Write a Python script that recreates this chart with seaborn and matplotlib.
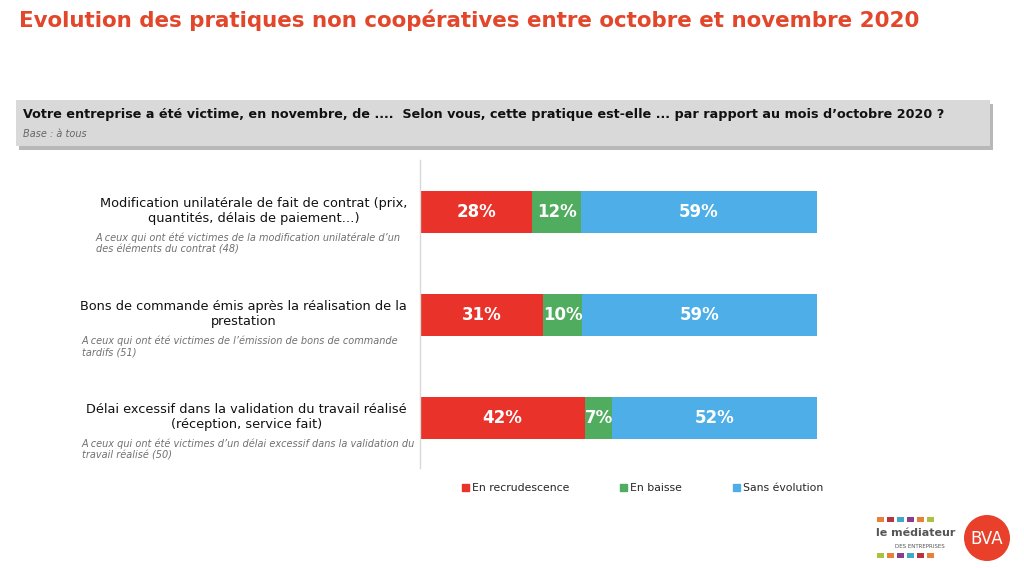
import matplotlib.pyplot as plt
import matplotlib.transforms as mtransforms
from matplotlib.patches import Rectangle, Ellipse, Patch
import pandas as pd
import seaborn as sns

# ---------------------------------------------------------------
# données
# ---------------------------------------------------------------
categories = [
    "Modification unilatérale de fait de contrat (prix,\nquantités, délais de paiement…)",
    "Bons de commande émis après la réalisation de la\nprestation",
    "Délai excessif dans la validation du travail réalisé\n(réception, service fait)",
]
bases = [
    "A ceux qui ont été victimes de la modification unilatérale d’un\ndes éléments du contrat (48)",
    "A ceux qui ont été victimes de l’émission de bons de commande\ntardifs (51)",
    "A ceux qui ont été victimes d’un délai excessif dans la validation du\ntravail réalisé (50)",
]
recrudescence = [28.3, 31.1, 41.6]
baisse = [12.3, 9.6, 6.8]
sans_evolution = [59.4, 59.3, 51.6]

series_names = ["En recrudescence", "En baisse", "Sans évolution"]
colors = ["#E9322A", "#50AC5E", "#4DAEE8"]

title = "Evolution des pratiques non coopératives entre octobre et novembre 2020"
question = ("Votre entreprise a été victime, en novembre, de ....  Selon vous, cette pratique "
            "est-elle ... par rapport au mois d’octobre 2020 ?")
base_all = "Base : à tous"

# ---------------------------------------------------------------
sns.set_style("white")
plt.rcParams["font.family"] = ["DejaVu Sans"]

W, H = 1024, 568
fig = plt.figure(figsize=(W / 100, H / 100), dpi=100)


def fx(x):
    return x / W


def fy(y):
    return 1 - y / H


df = pd.DataFrame({
    "item": [f"c{i}" for i in range(len(categories))],
    "r": recrudescence,
    "b": baisse,
    "s": sans_evolution,
})
df["cum_r"] = df["r"]
df["cum_b"] = df["r"] + df["b"]
df["cum_s"] = df["r"] + df["b"] + df["s"]

ax = fig.add_axes([fx(420), fy(468), 397 / W, 308 / H])
# barres empilées : on trace le total puis on recouvre
for col, c in [("cum_s", colors[2]), ("cum_b", colors[1]), ("cum_r", colors[0])]:
    sns.barplot(data=df, x=col, y="item", orient="h", color=c, saturation=1,
                width=0.4, ax=ax, linewidth=0)

ax.set_xlim(0, 100)
ax.set_ylim(2.485, -0.505)
ax.set_xlabel("")
ax.set_ylabel("")
ax.set_xticks([])
ax.set_yticks([])
for s in ["top", "right", "bottom"]:
    ax.spines[s].set_visible(False)
ax.spines["left"].set_color("#D9D9D9")
ax.spines["left"].set_linewidth(1)

# étiquettes de valeur
for i in range(len(df)):
    start = 0
    for key in ["r", "b", "s"]:
        v = df.loc[i, key]
        ax.text(start + v / 2, i, f"{round(v):d}%", ha="center", va="center",
                color="white", fontsize=12, fontweight="bold")
        start += v

# libellés des items
trans = mtransforms.blended_transform_factory(fig.transFigure, ax.transData)
base_x = [96, 82, 82]
for i, (lab, note) in enumerate(zip(categories, bases)):
    ax.text(fx(407), i - 0.01, lab, transform=trans, ha="right", va="center",
            multialignment="center", fontsize=9.3, color="#111111", linespacing=1.15)
    ax.text(fx(base_x[i]), i + 0.2, note, transform=trans, ha="left", va="top",
            fontsize=7, style="italic", color="#707070", linespacing=1.2)

# légende
handles = [Patch(color=c, label=n) for c, n in zip(colors, series_names)]
fig.legend(handles=handles, loc="center left", bbox_to_anchor=(fx(462), fy(488)),
           ncol=3, frameon=False, handlelength=0.65, handleheight=0.65,
           handletextpad=0.3, columnspacing=4.65, fontsize=7.8,
           borderpad=0, borderaxespad=0)

# titre
fig.text(fx(19), fy(20), title, ha="left", va="center", fontsize=15.4,
         fontweight="bold", color="#E2472B")

# encadré de la question
fig.patches.append(Rectangle((fx(19), fy(150)), fx(974), 46 / H, transform=fig.transFigure,
                             facecolor="#A6A6A6", edgecolor="none", alpha=0.8, zorder=0))
fig.patches.append(Rectangle((fx(16), fy(146)), fx(974), 46 / H, transform=fig.transFigure,
                             facecolor="#D9D9D9", edgecolor="none", zorder=1))
fig.text(fx(23), fy(114), question, ha="left", va="center", fontsize=9.2,
         fontweight="bold", color="#111111", zorder=2)
fig.text(fx(23), fy(134), base_all, ha="left", va="center", fontsize=7,
         style="italic", color="#666666", zorder=2)

# logos
sq_colors = ["#E8803A", "#B8323F", "#3FA9C9", "#8A3D8F", "#E8803A", "#A9C23F"]
for k, c in enumerate(sq_colors):
    fig.patches.append(Rectangle((fx(877 + k * 10), fy(522)), 7 / W, 5 / H,
                                 transform=fig.transFigure, facecolor=c, edgecolor="none"))
    fig.patches.append(Rectangle((fx(877 + k * 10), fy(558)), 7 / W, 5 / H,
                                 transform=fig.transFigure, facecolor=sq_colors[::-1][k],
                                 edgecolor="none"))
fig.text(fx(876), fy(533), "le médiateur", ha="left", va="center", fontsize=8,
         fontweight="bold", color="#555555")
fig.text(fx(895), fy(546), "DES ENTREPRISES", ha="left", va="center", fontsize=4,
         color="#555555")
fig.patches.append(Ellipse((fx(987), fy(538)), 46 / W, 46 / H, transform=fig.transFigure,
                           facecolor="#E8402A", edgecolor="none"))
fig.text(fx(987), fy(539), "BVA", ha="center", va="center", fontsize=12,
         color="white")

fig.savefig("out.png", dpi=100)
